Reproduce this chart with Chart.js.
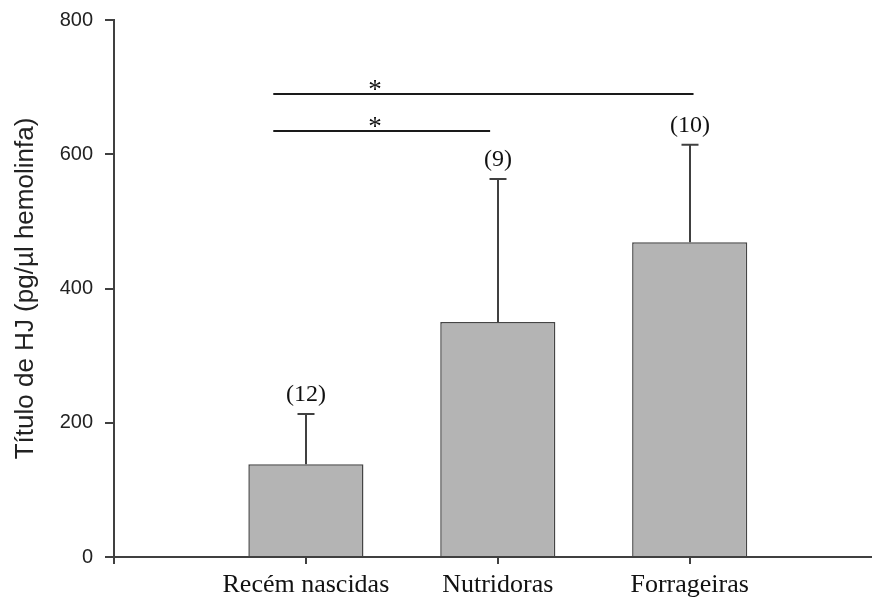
<!DOCTYPE html>
<html>
<head>
<meta charset="utf-8">
<script src="https://cdn.jsdelivr.net/npm/chart.js@4/dist/chart.umd.min.js"></script>
<style>
  html, body { margin: 0; padding: 0; background: #fff; }
  #wrap { width: 872px; height: 603px; }
</style>
</head>
<body>
<div id="wrap"><canvas id="c" width="872" height="603"></canvas></div>
<script>
// Juvenile hormone titre per worker group: mean + upper SD, with sample sizes
const categories = ['Recém nascidas', 'Nutridoras', 'Forrageiras'];
const means = [138, 350, 469];
const sdUpper = [75, 213, 145];
const sampleSizes = ['(12)', '(9)', '(10)'];
const yTicks = [0, 200, 400, 600, 800];

// Significance brackets (x in group units, y in pg/µl)
const sigLevels = [690, 635];
const sigStarts = [0.83, 0.83];
const sigEnds = [3.02, 1.96];
const sigStarX = 1.36;

const AXIS = '#404040';
const SANS = '"Liberation Sans", Arial, Helvetica, sans-serif';
const SERIF = '"Liberation Serif", "Times New Roman", Times, serif';

const annotations = {
  id: 'annotations',
  afterDatasetsDraw(chart) {
    const { ctx, scales: { x, y } } = chart;
    ctx.save();
    // error bars (upper only) and sample-size labels
    ctx.strokeStyle = '#404040';
    ctx.lineWidth = 2;
    means.forEach((m, i) => {
      const px = Math.round(x.getPixelForValue(i + 1));
      const yMean = y.getPixelForValue(m);
      const yTop = y.getPixelForValue(m + sdUpper[i]);
      ctx.beginPath();
      ctx.moveTo(px, yMean);
      ctx.lineTo(px, yTop);
      ctx.moveTo(px - 8.5, yTop);
      ctx.lineTo(px + 8.5, yTop);
      ctx.stroke();
      ctx.fillStyle = '#111';
      ctx.font = '24px ' + SERIF;
      ctx.textAlign = 'center';
      ctx.textBaseline = 'alphabetic';
      ctx.fillText(sampleSizes[i], px, yTop - 13);
    });
    // significance lines with asterisks
    ctx.strokeStyle = '#1a1a1a';
    ctx.lineWidth = 2;
    sigLevels.forEach((lv, k) => {
      const py = Math.round(y.getPixelForValue(lv));
      ctx.beginPath();
      ctx.moveTo(x.getPixelForValue(sigStarts[k]), py);
      ctx.lineTo(x.getPixelForValue(sigEnds[k]), py);
      ctx.stroke();
      ctx.fillStyle = '#111';
      ctx.font = '27px ' + SERIF;
      ctx.textAlign = 'center';
      ctx.textBaseline = 'alphabetic';
      ctx.fillText('*', x.getPixelForValue(sigStarX), py + 4);
    });
    ctx.restore();
  }
};

new Chart(document.getElementById('c'), {
  type: 'bar',
  data: {
    datasets: [{
      data: categories.map((c, i) => ({ x: i + 1, y: means[i] })),
      backgroundColor: '#b4b4b4',
      borderColor: '#454545',
      borderWidth: 1.5,
      barPercentage: 0.6,
      categoryPercentage: 1
    }]
  },
  options: {
    responsive: false,
    devicePixelRatio: 1,
    animation: false,
    layout: { padding: { top: 20, right: 0, bottom: 0, left: 0 } },
    plugins: { legend: { display: false }, tooltip: { enabled: false } },
    scales: {
      x: {
        type: 'linear',
        offset: false,
        min: 0,
        max: 3.95,
        afterBuildTicks: s => { s.ticks = [0, 1, 2, 3].map(v => ({ value: v })); },
        afterFit: s => { s.height = 46; s.paddingLeft = 0; s.paddingRight = 0; },
        ticks: {
          callback: v => categories[v - 1] || '',
          autoSkip: false,
          maxRotation: 0,
          color: '#111',
          padding: 6,
          font: { family: SERIF, size: 26 }
        },
        grid: { offset: false, drawOnChartArea: false, drawTicks: true, tickLength: 7, color: AXIS, lineWidth: 2 },
        border: { color: AXIS, width: 2 }
      },
      y: {
        min: 0,
        max: 800,
        afterBuildTicks: s => { s.ticks = yTicks.map(v => ({ value: v })); },
        afterFit: s => { s.width = 114; s.paddingTop = 0; s.paddingBottom = 0; },
        ticks: {
          color: '#222',
          padding: 12,
          font: { family: SANS, size: 20 }
        },
        grid: { drawOnChartArea: false, drawTicks: true, tickLength: 9, color: AXIS, lineWidth: 2 },
        border: { color: AXIS, width: 2 },
        title: {
          display: true,
          text: 'Título de HJ (pg/µl hemolinfa)',
          color: '#222',
          font: { family: SANS, size: 26 },
          padding: { top: 10, bottom: 0 }
        }
      }
    }
  },
  plugins: [annotations]
});
</script>
</body>
</html>
